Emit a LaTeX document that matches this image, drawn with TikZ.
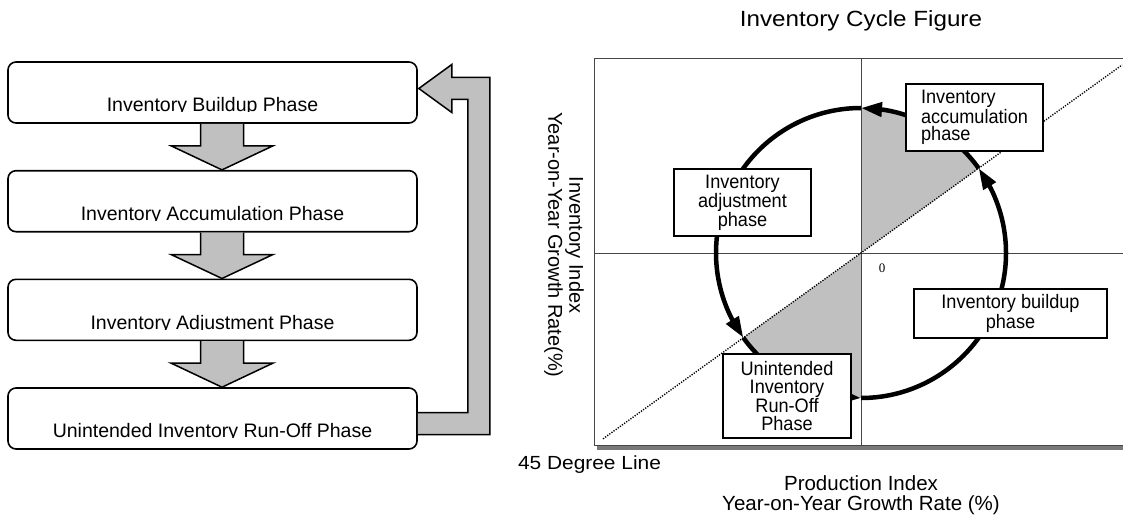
\documentclass[tikz,border=0pt]{standalone}
\usepackage{fontspec}
\setmainfont{Liberation Sans}
\newfontfamily\serifnum{Liberation Serif}
\usetikzlibrary{arrows.meta,bending,calc}

\definecolor{sectorgray}{RGB}{192,192,192}
\definecolor{framegray}{RGB}{70,70,70}
\definecolor{shadowgray}{RGB}{120,120,120}

\begin{document}
\begin{tikzpicture}[x=1pt,y=1pt,
  phasebox/.style={draw=black, line width=1.6pt, rounded corners=8pt,
    minimum width=409pt, minimum height=61pt, fill=white, inner sep=0pt},
  phasetext/.style={font=\fontsize{19.5}{22}\selectfont,
    anchor=base, inner sep=0pt},
  blockarrow/.style={draw=black, line width=1.5pt, fill=sectorgray, line join=miter},
  cyclelabel/.style={draw=black, line width=1.3pt, fill=white, inner sep=0pt, align=center},
  labeltext/.style={font=\fontsize{19.5}{17.5}\selectfont, xscale=0.93, align=center, inner sep=0pt},
  cyclearc/.style={line width=4.5pt, -{Triangle[length=21pt,width=14pt,flex]}},
  axislabel/.style={font=\fontsize{20}{21}\selectfont, align=center, inner sep=0pt},
  axisline/.style={framegray, line width=1pt}
]
\useasboundingbox (0,0) rectangle (1123,-516);

% ---------- left: phase sequence ----------
\node[phasebox] (b1) at (212.5,-92.5) {};
\node[phasebox] (b2) at (212.5,-201.2) {};
\node[phasebox] (b3) at (212.5,-309.8) {};
\node[phasebox] (b4) at (212.5,-418.5) {};

% block arrows between consecutive phases
\foreach \a/\b in {b1/b2, b2/b3, b3/b4}{
  \draw[blockarrow] let \p1=($(\a.south)+(9.5,0)$), \p2=($(\b.north)+(9.5,0)$) in
    (\x1-21.5,\y1) -- (\x1-21.5,\y1-22) -- (\x1-51,\y1-22) -- (\x2,\y2)
    -- (\x1+51,\y1-22) -- (\x1+21.5,\y1-22) -- (\x1+21.5,\y1);
}

% return arrow from the last phase back to the first
\draw[blockarrow] let \p1=(b4.east), \p2=(b1.east) in
  (\x1,\y1+6) -- (\x1+50,\y1+6) -- (\x1+50,\y2-7) -- (\x2+34,\y2-7)
  -- (\x2+34,\y2-20) -- (\x2+1,\y2+4) -- (\x2+34,\y2+28) -- (\x2+34,\y2+15)
  -- (\x1+72,\y2+15) -- (\x1+72,\y1-16) -- (\x1,\y1-16);

% phase captions, cut at the baseline
\foreach \b/\txt in {b1/Inventory Buildup Phase, b2/Inventory Accumulation Phase,
                     b3/Inventory Adjustment Phase, b4/Unintended Inventory Run-Off Phase}{
  \begin{scope}
    \clip ($(\b.north west)+(2,-2)$) rectangle ($(\b.south east)+(-2,12)$);
    \node[phasetext] (\b t) at ($(\b.south)+(0,12)$) {\txt};
  \end{scope}
}

% ---------- right: inventory cycle chart ----------
\coordinate (O) at (861,-253);
\node[font=\fontsize{22}{24}\selectfont, xscale=1.1] (title) at (861,-21) {Inventory Cycle Figure};

% frame with drop shadow
\fill[shadowgray] (597,-446) rectangle (1124,-450);
\draw[axisline] (1124,-59) -- (594,-59) -- (594,-445) -- (1124,-445);

% shaded sectors between the 45 degree line and the vertical axis
\fill[sectorgray] (O) -- ($(O)+(35.75:145)$) arc[start angle=35.75, end angle=90, radius=145] -- cycle;
\fill[sectorgray] (O) -- ($(O)+(215.75:145)$) arc[start angle=215.75, end angle=270, radius=145] -- cycle;

% axes
\draw[axisline] (594,-253) -- (1124,-253);
\draw[axisline] (861,-59) -- (861,-445);

% 45 degree line
\coordinate (d1) at (603,-438.8);
\coordinate (d2) at (1122,-65);
\draw[line width=1.4pt, dash pattern=on 1.2pt off 1.4pt] (d1) -- (d2);

% the cycle
\draw[cyclearc] ($(O)+(270:145)$) arc[start angle=270, end angle=395.75, radius=145];
\draw[cyclearc] ($(O)+(35.75:145)$) arc[start angle=35.75, end angle=90, radius=145];
\draw[cyclearc] ($(O)+(90:145)$) arc[start angle=90, end angle=215.75, radius=145];
\draw[cyclearc] ($(O)+(215.75:145)$) arc[start angle=215.75, end angle=270, radius=145];

% phase labels
\node[cyclelabel, minimum width=137pt, minimum height=67pt] (accum) at (974.5,-117.5) {};
\node[labeltext, align=left] (accumt) at (accum) {Inventory\\accumulation\\phase};
\node[cyclelabel, minimum width=137pt, minimum height=67pt] (adjust) at (742.5,-202.5) {};
\node[labeltext] (adjustt) at (adjust) {Inventory\\adjustment\\phase};
\node[cyclelabel, minimum width=193pt, minimum height=49pt] (build) at (1010.5,-313.5) {};
\node[labeltext] (buildt) at (build) {Inventory buildup\\phase};
\node[cyclelabel, minimum width=128pt, minimum height=84pt] (runoff) at (787,-396) {};
\node[labeltext] (runofft) at (runoff) {Unintended\\Inventory\\Run-Off\\Phase};

\node[font=\serifnum\fontsize{13}{13}\selectfont, inner sep=0pt] (zero) at (882,-268) {0};

% axis captions
\node[axislabel, font=\fontsize{19}{21}\selectfont, xscale=1.1] (deg) at (589.5,-465) {45 Degree Line};
\node[axislabel, font=\fontsize{20.5}{20.5}\selectfont] (xlab) at (861,-495)
  {Production Index\\Year-on-Year Growth Rate (\%)};
\node[axislabel, rotate=-90] (ylab) at (564,-245)
  {Inventory Index\\Year-on-Year Growth Rate(\%)};
\end{tikzpicture}
\end{document}
